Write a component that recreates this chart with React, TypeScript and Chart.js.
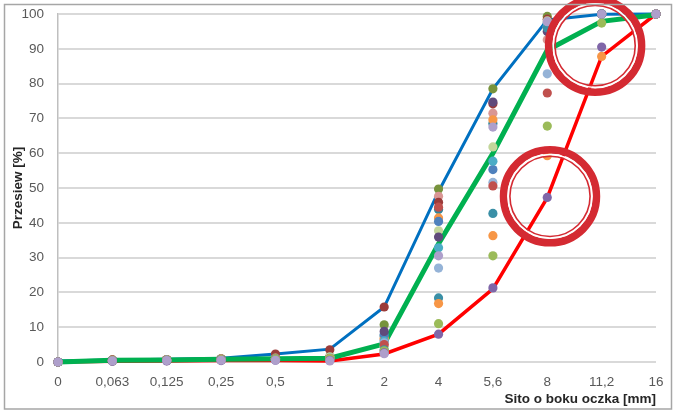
import React, { useEffect, useRef } from 'react';
import { Chart, registerables } from 'chart.js';

Chart.register(...registerables);

// ---- data ----
const categories = ['0', '0,063', '0,125', '0,25', '0,5', '1', '2', '4', '5,6', '8', '11,2', '16'];

// limit / reference curves
const upperCurve = [0.3, 0.6, 0.8, 1.1, 2.3, 3.7, 15.8, 49, 78.5, 98.3, 99.9, 100];
const middleCurve = [0, 0.5, 0.6, 0.8, 0.9, 1.1, 5.2, 34, 60, 89.6, 97.9, 99.8];
const lowerCurve = [0, 0.2, 0.3, 0.4, 0.4, 0.3, 2.3, 8, 21, 47.2, 87.8, 100];

// individual sample results (scatter points)
const sampleLavender = [0, 0.3, 0.4, 0.5, 0.5, 0.3, 2.4, 30.5, 67.5, 97.8, 100, 100];
const samplePurpleLow = [0, 0.2, 0.3, 0.4, 0.5, 0.5, 2.6, 8, 21.3, 47.3, 90.5, 100];
const sampleGreen = [0, 0.3, 0.4, 0.6, 0.8, 0.9, 3.2, 11, 30.5, 67.8, 97.4, 100];
const sampleOrangeLow = [0, 0.3, 0.4, 0.6, 0.8, 1, 3, 16.8, 36.3, 59.3, 87.8, 100];
const sampleTealLow = [0, 0.4, 0.5, 0.7, 0.9, 1, 3.5, 18.4, 42.7, 96, 100, 100];
const sampleRed = [0, 0.4, 0.5, 0.7, 0.9, 1, 5, 44.5, 50.6, 77.3, 100, 100];
const sampleLightBlue = [0, 0.4, 0.5, 0.7, 0.9, 1, 5.5, 27, 51.6, 82.8, 100, 100];
const sampleAqua = [0, 0.4, 0.5, 0.7, 0.9, 1.1, 6, 32.8, 57.7, 96.5, 100, 100];
const samplePurple = [0, 0.3, 0.4, 0.6, 0.8, 1, 8.8, 35.9, 74.7, 95, 100, 100];
const sampleLightGreen = [0, 0.5, 0.6, 0.8, 1.1, 1.5, 4.5, 37.7, 61.8, 98, 100, 100];
const sampleBlue = [0, 0.4, 0.5, 0.6, 0.9, 1.1, 7.8, 40.4, 55.3, 96.5, 100, 100];
const sampleOrange = [0, 0.4, 0.5, 0.7, 1, 1.2, 6.8, 41.4, 69.6, 96, 100, 100];
const sampleTeal = [0, 0.4, 0.5, 0.7, 1, 1.2, 7.5, 43.8, 68.5, 97.5, 100, 100];
const sampleDarkRed = [0, 0.6, 0.7, 0.9, 2.3, 3.5, 15.8, 45.9, 74.2, 98.5, 100, 100];
const samplePink = [0, 0.5, 0.6, 0.8, 1.1, 1.4, 6.4, 47.6, 71.5, 92.6, 100, 100];
const sampleOlive = [0, 0.6, 0.7, 0.9, 1.2, 1.6, 10.7, 49.7, 78.5, 99.3, 100, 100];

// highlighted regions (category index, value)
const highlightX = [9.88, 9.05];
const highlightY = [90.9, 47.6];

const samples: { data: number[]; color: string }[] = [
  { data: sampleLavender, color: '#AE9FCB' },
  { data: samplePurpleLow, color: '#7F66A8' },
  { data: sampleGreen, color: '#9BBB59' },
  { data: sampleOrangeLow, color: '#F79646' },
  { data: sampleTealLow, color: '#3A8FA6' },
  { data: sampleRed, color: '#C0504D' },
  { data: sampleLightBlue, color: '#95B3D7' },
  { data: sampleAqua, color: '#4BACC6' },
  { data: samplePurple, color: '#604A7B' },
  { data: sampleLightGreen, color: '#C3D69B' },
  { data: sampleBlue, color: '#4F81BD' },
  { data: sampleOrange, color: '#F79646' },
  { data: sampleTeal, color: '#31859C' },
  { data: sampleDarkRed, color: '#9B3B39' },
  { data: samplePink, color: '#D99694' },
  { data: sampleOlive, color: '#77933C' },
];

const FONT = "'Liberation Sans', Arial, sans-serif";

const extrasPlugin = {
  id: 'extras',
  afterDraw(chart: any) {
    const { ctx } = chart;
    const xs = chart.scales.x;
    const ys = chart.scales.y;
    ctx.save();
    for (let i = 0; i < highlightX.length; i++) {
      const cx = xs.getPixelForValue(highlightX[i]);
      const cy = ys.getPixelForValue(highlightY[i]);
      ctx.strokeStyle = '#D42A32';
      ctx.lineWidth = 7.5;
      ctx.beginPath();
      ctx.arc(cx, cy, 46.5, 0, Math.PI * 2);
      ctx.stroke();
      ctx.strokeStyle = '#FFFFFF';
      ctx.lineWidth = 1.8;
      ctx.beginPath();
      ctx.arc(cx, cy, 41.8, 0, Math.PI * 2);
      ctx.stroke();
      ctx.strokeStyle = '#D42A32';
      ctx.lineWidth = 1.6;
      ctx.beginPath();
      ctx.arc(cx, cy, 40.1, 0, Math.PI * 2);
      ctx.stroke();
    }
    // outer frame
    ctx.strokeStyle = '#A6A6A6';
    ctx.lineWidth = 1.5;
    ctx.strokeRect(4.5, 4.5, 667, 404.5);
    ctx.restore();
  },
};

export default function App() {
  const ref = useRef<HTMLCanvasElement | null>(null);

  useEffect(() => {
    if (!ref.current) return;

    const lineDs = (data: number[], color: string, width: number) => ({
      type: 'line' as const,
      data,
      borderColor: color,
      backgroundColor: color,
      borderWidth: width,
      pointRadius: 0,
      tension: 0,
      fill: false,
      order: 1,
      clip: false as any,
    });

    const datasets: any[] = [
      ...samples.map((s) => ({
        type: 'line' as const,
        data: s.data,
        showLine: false,
        pointRadius: 4.6,
        pointBorderWidth: 0,
        pointBackgroundColor: s.color,
        borderColor: s.color,
        backgroundColor: s.color,
        order: 0,
        clip: false as any,
      })),
      lineDs(middleCurve, '#00B050', 5),
      lineDs(lowerCurve, '#FF0000', 3.5),
      lineDs(upperCurve, '#0070C0', 3),
    ];

    const chart = new Chart(ref.current, {
      type: 'line',
      data: { labels: categories, datasets },
      plugins: [extrasPlugin],
      options: {
        animation: false,
        responsive: false,
        devicePixelRatio: 1,
        layout: { padding: { left: 0, right: 17, top: 14, bottom: 0 } },
        plugins: { legend: { display: false }, tooltip: { enabled: false } },
        scales: {
          x: {
            type: 'category',
            offset: false,
            grid: { display: false, drawTicks: true, tickLength: 12, tickColor: 'rgba(0,0,0,0)' },
            border: { display: false },
            ticks: {
              color: '#595959',
              font: { family: FONT, size: 13.5 },
              padding: 0,
              maxRotation: 0,
              autoSkip: false,
            },
            title: {
              display: true,
              text: 'Sito o boku oczka [mm]',
              align: 'end',
              color: '#262626',
              font: { family: FONT, size: 13.5, weight: 'bold' },
              padding: { top: 0, bottom: 4 },
            },
            afterFit: (axis: any) => {
              axis.height = 49;
            },
          },
          y: {
            min: 0,
            max: 100,
            ticks: {
              stepSize: 10,
              color: '#595959',
              font: { family: FONT, size: 13.5 },
              padding: 0,
            },
            grid: { color: '#D9D9D9', lineWidth: 2, drawTicks: true, tickLength: 14, tickColor: 'rgba(0,0,0,0)' },
            border: { display: true, color: '#BFBFBF', width: 1.5 },
            title: {
              display: true,
              text: 'Przesiew [%]',
              color: '#262626',
              font: { family: FONT, size: 13.5, weight: 'bold' },
              padding: { top: 10, bottom: 0 },
            },
            afterFit: (axis: any) => {
              axis.width = 58;
            },
          },
        },
      } as any,
    });

    return () => chart.destroy();
  }, []);

  return (
    <div style={{ position: 'absolute', left: 0, top: 0, width: 673, height: 411, background: '#fff' }}>
      <canvas ref={ref} width={673} height={411} />
    </div>
  );
}
